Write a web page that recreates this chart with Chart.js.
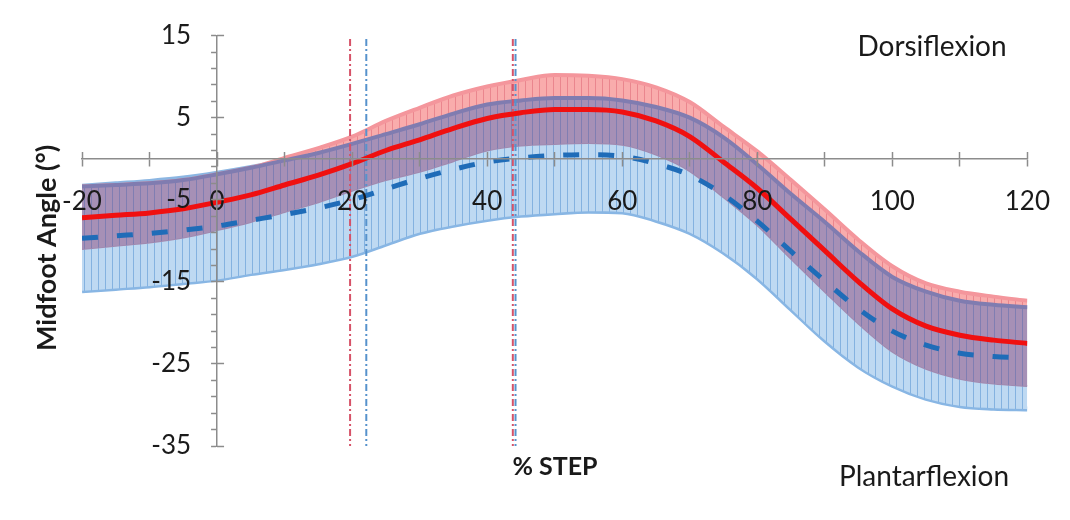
<!DOCTYPE html>
<html><head><meta charset="utf-8">
<script src="https://cdn.jsdelivr.net/npm/chart.js@4.4.1/dist/chart.umd.min.js"></script>
<style>html,body{margin:0;padding:0;background:#fff;} #c{display:block;}</style>
</head><body>
<canvas id="c" width="1070" height="520"></canvas>
<script>
// ---- data ----
const steps    = [-20,-15,-10,-5,0,5,10,15,20,25,30,35,40,45,50,55,60,65,70,75,80,85,90,95,100,105,110,115,120];
const redMean  = [-7.2,-6.9,-6.6,-6.1,-5.3,-4.4,-3.2,-2.0,-0.6,1.0,2.3,3.7,4.9,5.6,6.0,6.0,5.7,4.6,2.7,-0.4,-3.6,-7.4,-11.2,-15.0,-18.3,-20.4,-21.5,-22.1,-22.5];
const redSD    = [3.8,3.7,3.6,3.5,3.4,3.3,3.3,3.3,3.3,3.6,3.9,4.0,3.9,4.0,4.2,4.1,4.0,4.1,4.2,4.3,4.5,4.8,5.0,5.1,5.2,5.2,5.3,5.3,5.2];
const blueMean = [-9.7,-9.4,-9.1,-8.7,-8.2,-7.5,-6.8,-6.0,-5.0,-3.7,-2.4,-1.3,-0.4,0.1,0.4,0.5,0.3,-0.6,-2.0,-4.4,-7.6,-11.3,-14.9,-18.3,-21.0,-22.7,-23.7,-24.1,-24.3];
const blueSD   = [6.4,6.4,6.4,6.4,6.5,6.5,6.6,6.7,6.8,6.7,6.6,6.8,7.0,7.0,7.0,6.9,6.8,6.9,7.0,7.0,6.9,7.0,7.2,7.0,6.6,6.5,6.4,6.3,6.2];
const redPhase  = [19.7, 43.8];
const bluePhase = [22.1, 44.2];
const phaseSpan = [14.6, -35];
const xTicks = {min: -20, max: 120, step: 10, labelEvery: 20};
const yTicks = {min: -35, max: 15, step: 2, labelEvery: 10};
const texts = {yTitle: 'Midfoot Angle (°)', xTitle: '% STEP', top: 'Dorsiflexion', bottom: 'Plantarflexion'};

// ---- helpers ----
const pts = ys => steps.map((x, i) => ({x, y: ys[i]}));
const band = (m, s, k) => m.map((v, i) => +(v + k * s[i]).toFixed(2));
const redHi = band(redMean, redSD, 1), redLo = band(redMean, redSD, -1);
const blueHi = band(blueMean, blueSD, 1), blueLo = band(blueMean, blueSD, -1);
const bothHi = redHi.map((v, i) => Math.min(v, blueHi[i]));
const bothLo = redLo.map((v, i) => Math.max(v, blueLo[i]));

function stripes(bg, line) {
  const c = document.createElement('canvas'); c.width = 7; c.height = 4;
  const g = c.getContext('2d');
  g.fillStyle = bg; g.fillRect(0, 0, 7, 4);
  g.fillStyle = line; g.fillRect(0, 0, 1, 4);
  return g.createPattern(c, 'repeat');
}
const ctx = document.getElementById('c').getContext('2d');
const bluePat   = stripes('rgb(190,217,242)', 'rgb(132,178,224)');
const redPat    = stripes('rgb(249,172,172)', 'rgb(234,134,142)');
const purplePat = stripes('rgb(166,144,182)', 'rgb(128,126,178)');
const phaseLine = (x, color, order) => ({
  data: [{x, y: phaseSpan[0]}, {x, y: phaseSpan[1]}],
  borderColor: color, borderWidth: 2, borderDash: [7, 3, 2, 3], pointRadius: 0, fill: false, order
});
const base = {pointRadius: 0, cubicInterpolationMode: 'monotone', fill: false};
const axisGrey = '#8c8c8c';

const axesAtZero = {
  id: 'axesAtZero',
  afterLayout(chart) {
    const px = chart.scales.x.getPixelForValue(0);
    const y = chart.scales.y;
    y.left = px - 180; y.right = px; y.width = 180;
    const y2 = chart.scales.y2;
    y2.left = px; y2.right = px + 10; y2.width = 10;
  }
};
const textPlugin = {
  id: 'texts',
  afterDraw(chart) {
    const c = chart.ctx;
    c.save();
    c.fillStyle = '#1a1a1a';
    c.textAlign = 'center'; c.textBaseline = 'middle';
    c.save();
    c.translate(47, 248); c.rotate(-Math.PI / 2);
    c.font = 'bold 27px Lato';
    c.fillText(texts.yTitle, 0, 0);
    c.restore();
    c.font = 'bold 25px Lato';
    c.fillText(texts.xTitle, 555, 467);
    c.font = '28px Lato';
    c.fillText(texts.top, 932, 47);
    c.fillText(texts.bottom, 924, 477);
    c.restore();
  }
};

new Chart(ctx, {
  type: 'line',
  data: {
    datasets: [
      {...base, data: pts(blueLo), borderColor: 'rgb(136,182,228)', borderWidth: 5, order: 10},
      {...base, data: pts(blueHi), borderColor: 'rgb(140,182,226)', borderWidth: 4,
        fill: {target: 0}, backgroundColor: bluePat, order: 9},
      {...base, data: pts(redLo), borderColor: 'rgba(0,0,0,0)', borderWidth: 0, order: 8},
      {...base, data: pts(redHi), borderColor: 'rgb(244,150,156)', borderWidth: 4,
        fill: {target: 2}, backgroundColor: redPat, order: 7},
      {...base, data: pts(bothLo), borderColor: 'rgb(160,138,176)', borderWidth: 2, order: 6.5},
      {...base, data: pts(bothHi), borderColor: 'rgb(128,124,176)', borderWidth: 4,
        fill: {target: 4}, backgroundColor: purplePat, order: 6.4},
      phaseLine(redPhase[0], 'rgb(214,82,104)', 6),
      phaseLine(bluePhase[0], 'rgb(86,146,204)', 5),
      phaseLine(bluePhase[1], 'rgb(86,146,204)', 4),
      phaseLine(redPhase[1], 'rgb(214,82,104)', 3),
      {...base, data: pts(blueMean), borderColor: '#1f6cb8', borderWidth: 5, borderDash: [16, 19], order: 2},
      {...base, data: pts(redMean), borderColor: '#f01010', borderWidth: 5, order: 1}
    ]
  },
  options: {
    responsive: false, animation: false,
    layout: {padding: {left: 82, right: 38, top: 33, bottom: 74}},
    plugins: {legend: {display: false}, tooltip: {enabled: false}},
    scales: {
      x: {
        type: 'linear', min: xTicks.min, max: xTicks.max, position: {y: 0},
        afterFit(s) { s.height = 0; },
        border: {display: true, color: axisGrey, width: 1.5, z: 1},
        grid: {drawOnChartArea: false, drawTicks: true, tickLength: 7, tickColor: axisGrey, tickWidth: 1.5, z: 1},
        ticks: {stepSize: xTicks.step, autoSkip: false, maxRotation: 0, padding: 20, color: '#1a1a1a', z: 1,
          font: {family: 'Lato', size: 26},
          callback: v => (v % xTicks.labelEvery === 0 ? String(v) : '')}
      },
      x2: {
        type: 'linear', axis: 'x', min: xTicks.min, max: xTicks.max, position: {y: 0},
        afterFit(s) { s.height = 0; },
        border: {display: false},
        grid: {drawOnChartArea: false, drawTicks: true, tickLength: -7, tickColor: axisGrey, tickWidth: 1.5, z: 1},
        ticks: {stepSize: xTicks.step, autoSkip: false, maxRotation: 0, z: 1, callback: () => ''}
      },
      y: {
        type: 'linear', min: yTicks.min, max: yTicks.max, position: 'left',
        afterFit(s) { s.width = 0; },
        border: {display: true, color: axisGrey, width: 1.5, z: 1},
        grid: {drawOnChartArea: false, drawTicks: true, tickLength: 6, tickColor: axisGrey, tickWidth: 1.5, z: 1},
        ticks: {stepSize: yTicks.step, autoSkip: false, padding: 20, color: '#1a1a1a', z: 1,
          font: {family: 'Lato', size: 26},
          callback: v => ((v - yTicks.min) % yTicks.labelEvery === 0 ? String(v) : '')}
      },
      y2: {
        type: 'linear', axis: 'y', min: yTicks.min, max: yTicks.max, position: 'right',
        afterFit(s) { s.width = 0; },
        border: {display: false},
        grid: {drawOnChartArea: false, drawTicks: true, tickLength: 7, tickColor: axisGrey, tickWidth: 1.5, z: 1},
        ticks: {stepSize: yTicks.labelEvery, autoSkip: false, z: 1, callback: () => ''}
      }
    }
  },
  plugins: [axesAtZero, textPlugin]
});
</script>
</body></html>
